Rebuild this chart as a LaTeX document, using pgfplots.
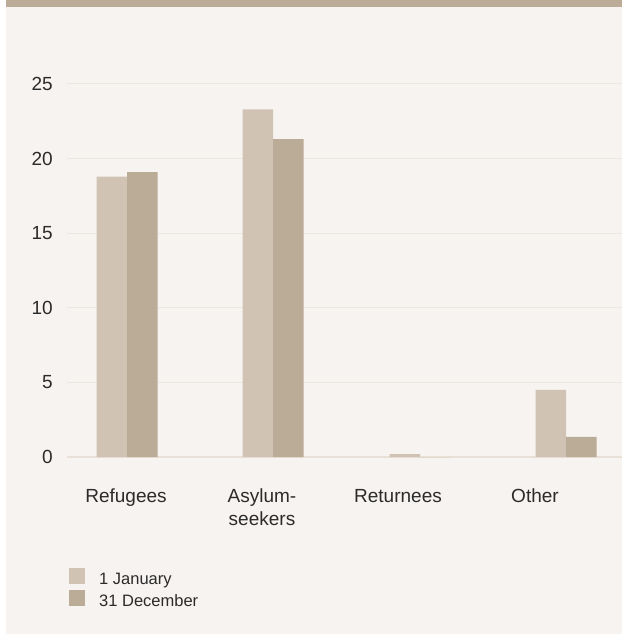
\documentclass[border=0pt]{standalone}
\usepackage{pgfplots}
\pgfplotsset{compat=1.18}
\usepackage{fontspec}
\setmainfont{Liberation Sans}
\definecolor{bg}{HTML}{F7F3F0}
\definecolor{band}{HTML}{BCAB96}
\definecolor{lightbar}{HTML}{D0C3B3}
\definecolor{darkbar}{HTML}{BBAC98}
\definecolor{gridc}{HTML}{EDE7E1}
\definecolor{zeroc}{HTML}{E9E1D8}
\definecolor{txt}{HTML}{2B2B2B}
\begin{document}
\begin{tikzpicture}[x=1pt,y=1pt]
\useasboundingbox (0,0) rectangle (622,634);
\fill[white] (0,0) rectangle (622,634);
\fill[bg] (6,0) rectangle (622,627);
\fill[band] (6,627) rectangle (622,634);
\begin{axis}[
  at={(67pt,177pt)}, anchor=south west,
  scale only axis, width=555pt, height=373pt,
  xmin=67, xmax=622, ymin=0, ymax=25,
  axis line style={draw=none},
  major tick length=0pt,
  ytick={5,10,15,20,25},
  extra y ticks={0}, extra y tick labels={0},
  extra y tick style={grid style={color=zeroc, line width=2pt}},
  ymajorgrids,
  grid style={color=gridc, line width=1pt},
  xtick={126,262,398,535},
  xticklabels={Refugees,{\begin{tabular}[t]{@{}c@{}}Asylum-\\seekers\end{tabular}},Returnees,Other},
  xticklabel style={anchor=base, yshift=-45pt, inner sep=0pt, font=\fontsize{19}{23}\selectfont, text=txt},
  yticklabel style={anchor=east, xshift=-14pt, inner sep=0pt, font=\fontsize{19}{23}\selectfont, text=txt},
  /pgf/number format/assume math mode=true,
  ybar, bar width=30.5,
  legend style={at={(0,0)}, anchor=north west, xshift=2pt, yshift=-111pt,
    draw=none, fill=none, inner sep=0pt, row sep=2pt, column sep=14pt,
    font=\fontsize{16.5}{20}\selectfont, text=txt,
    nodes={inner sep=0pt, text height=12pt, text depth=4pt}},
  legend cell align=left,
  legend image code/.code={\fill[#1] (0pt,-4pt) rectangle (16pt,12pt);},
]
\addplot[fill=lightbar, draw=none, bar shift=-15.25] coordinates {(127,18.8) (273,23.3) (420,0.2) (566,4.5)};
\addplot[fill=darkbar, draw=none, bar shift=15.25] coordinates {(127,19.1) (273,21.3) (420,0.0) (566,1.35)};
\legend{1 January, 31 December}
\end{axis}
\end{tikzpicture}
\end{document}
